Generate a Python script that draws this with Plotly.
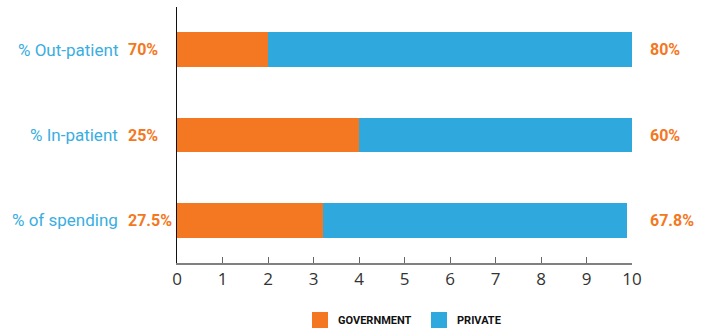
import plotly.graph_objects as go

# Health-care shares: government vs private
categories = ["% Out-patient", "% In-patient", "% of spending"]
government = [2, 4, 3.2]
private = [8, 6, 6.7]
government_labels = ["70%", "25%", "27.5%"]
private_labels = ["80%", "60%", "67.8%"]
x_ticks = list(range(0, 11))
series_names = ["GOVERNMENT", "PRIVATE"]

ORANGE = "#f47721"
BLUE = "#2ea8dd"
LABEL_BLUE = "#3aaee0"
SANS = "Roboto"

W, H = 702, 330
L, R, T, B = 177, 70, 7, 67
PW, PH = W - L - R, H - T - B


def px_x(px):
    return (px - L) / PW


def px_y(py):
    return (H - B - py) / PH


rows = list(range(len(categories)))

fig = go.Figure()
fig.add_trace(go.Bar(y=rows, x=government, orientation="h", name=series_names[0],
                     marker=dict(color=ORANGE, line=dict(width=0)), width=0.41))
fig.add_trace(go.Bar(y=rows, x=private, orientation="h", name=series_names[1],
                     marker=dict(color=BLUE, line=dict(width=0)), width=0.41))

annotations = []
for i, cat in enumerate(categories):
    annotations.append(dict(x=px_x(120), xref="paper", y=i, yref="y", text=cat,
                            xanchor="right", yanchor="middle", showarrow=False,
                            font=dict(family=SANS, size=17, color=LABEL_BLUE)))
    annotations.append(dict(x=px_x(126), xref="paper", y=i, yref="y",
                            text=government_labels[i],
                            xanchor="left", yanchor="middle", showarrow=False,
                            font=dict(family=SANS, size=16, weight=700, color=ORANGE)))
    annotations.append(dict(x=px_x(648), xref="paper", y=i, yref="y",
                            text=private_labels[i],
                            xanchor="left", yanchor="middle", showarrow=False,
                            font=dict(family=SANS, size=16, weight=700, color=ORANGE)))

# legend drawn below the axis
shapes = []
legend_items = [(series_names[0], ORANGE, 312), (series_names[1], BLUE, 431)]
for name, color, left in legend_items:
    shapes.append(dict(type="rect", xref="paper", yref="paper",
                       x0=px_x(left), x1=px_x(left + 16),
                       y0=px_y(328), y1=px_y(312),
                       fillcolor=color, line=dict(width=0)))
    annotations.append(dict(x=px_x(left + 24), xref="paper", y=px_y(320), yref="paper",
                            text=name, xanchor="left", yanchor="middle",
                            showarrow=False,
                            font=dict(family=SANS, size=11, weight=700, color="#111111")))

fig.update_layout(
    width=W, height=H,
    margin=dict(l=L, r=R, t=T, b=B, pad=0),
    barmode="stack",
    bargap=0,
    showlegend=False,
    plot_bgcolor="white",
    paper_bgcolor="white",
    annotations=annotations,
    shapes=shapes,
    xaxis=dict(range=[0, 10], tickvals=x_ticks, ticks="inside", ticklen=6,
               tickcolor="#666666", tickwidth=1.2,
               showline=True, linecolor="#808080", linewidth=1.5,
               showgrid=False, zeroline=False,
               tickfont=dict(family="Open Sans", size=17, color="#333333")),
    yaxis=dict(range=[2.5, -0.5], showticklabels=False, ticks="",
               showline=True, linecolor="#111111", linewidth=1.2,
               showgrid=False, zeroline=False),
)

fig.write_html("out.html")
